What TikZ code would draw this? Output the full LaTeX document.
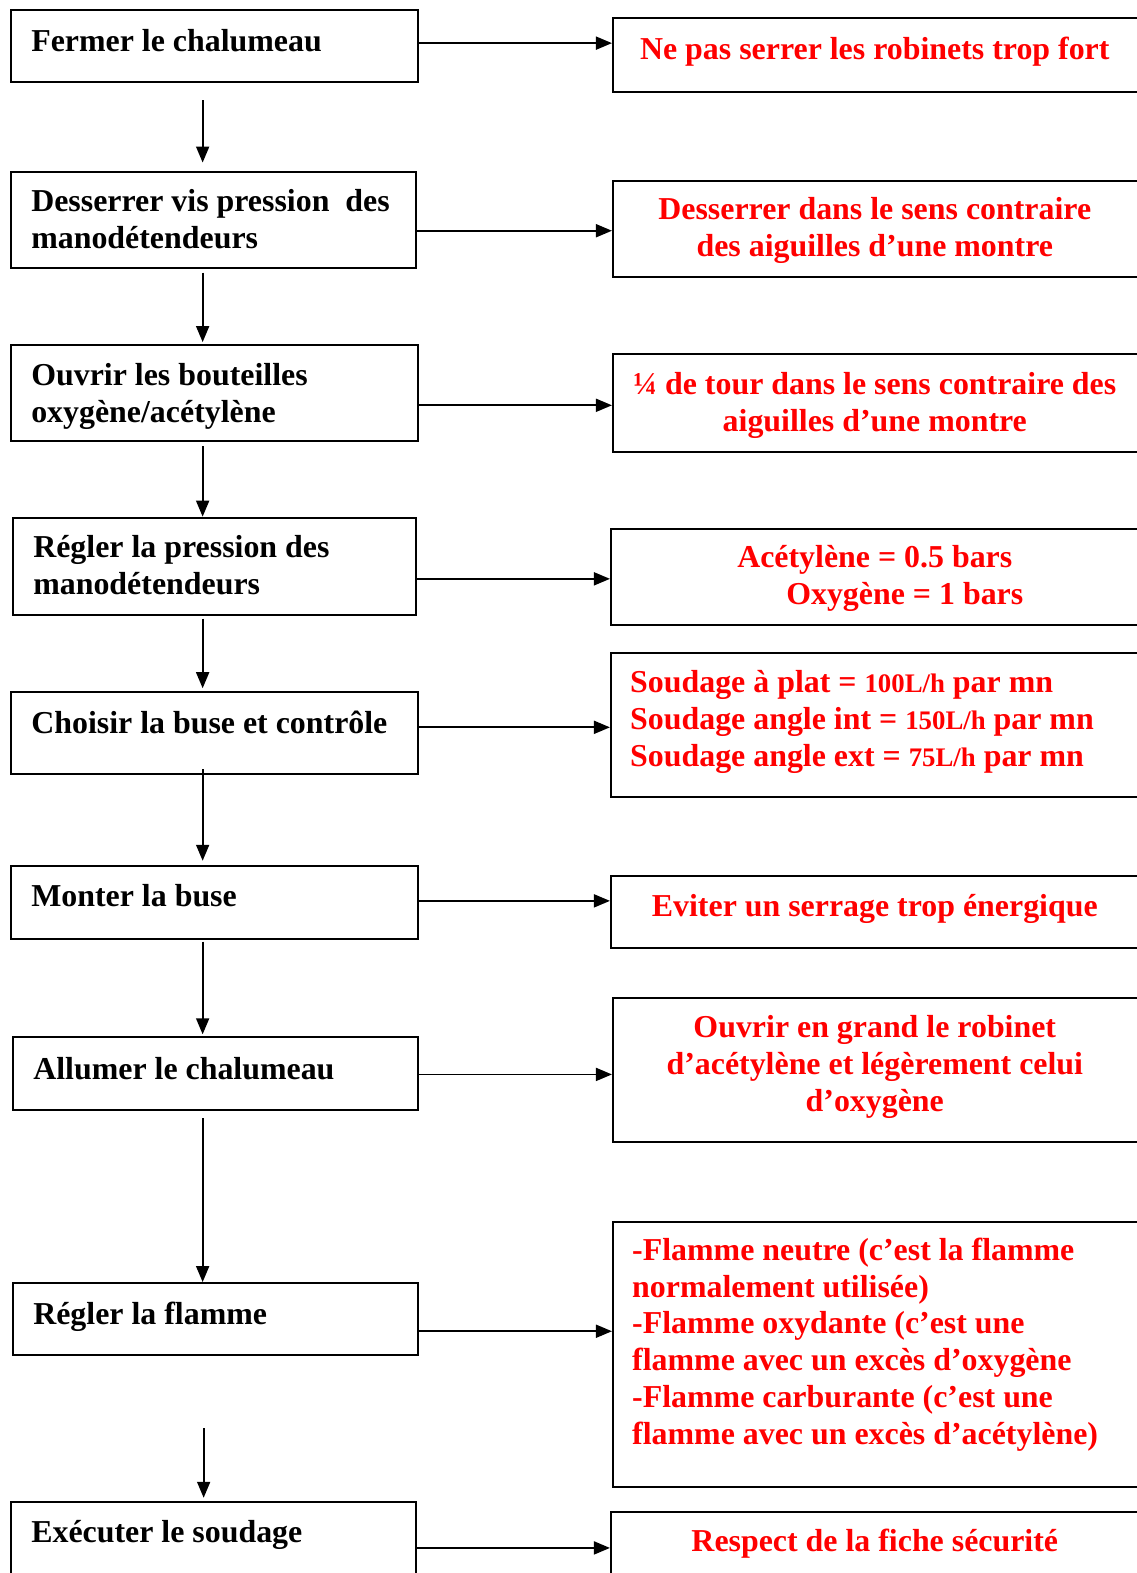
\documentclass[tikz,border=0pt]{standalone}
\usepackage{fontspec}
\setmainfont{Liberation Serif}
\usetikzlibrary{arrows.meta}
\newcommand{\bigfont}{\bfseries\fontsize{31.9}{37}\selectfont}
\newcommand{\smallnum}[1]{{\fontsize{26.8}{37}\selectfont #1}}
\tikzset{
  lbox/.style={draw, line width=2pt, inner sep=0pt, anchor=north west},
  rbox/.style={draw, line width=2pt, inner sep=0pt, anchor=north west, minimum width=530pt},
  ltext/.style={font=\bigfont, anchor=base west, inner sep=0pt, text width=400pt, align=flush left},
  rtext/.style={font=\bigfont, text=red, anchor=base, inner sep=0pt, text width=520pt, align=flush center},
  rltext/.style={font=\bigfont, text=red, anchor=base west, inner sep=0pt, text width=500pt, align=flush left},
  arr/.style={line width=1.8pt, -{Triangle[length=16pt,width=13pt]}},
}
\begin{document}
\begin{tikzpicture}[x=1.0035pt, y=-1.0035pt]
\useasboundingbox[fill=white] (0,0) rectangle (1133,1568);
% left boxes
\node[lbox, minimum width=407pt, minimum height=72pt] (L1) at (10,9) {};
\node[lbox, minimum width=405pt, minimum height=96pt] (L2) at (10,170) {};
\node[lbox, minimum width=407pt, minimum height=96pt] (L3) at (10,343) {};
\node[lbox, minimum width=403pt, minimum height=97pt] (L4) at (12,515) {};
\node[lbox, minimum width=407pt, minimum height=82pt] (L5) at (10,689) {};
\node[lbox, minimum width=407pt, minimum height=73pt] (L6) at (10,862) {};
\node[lbox, minimum width=405pt, minimum height=73pt] (L7) at (12,1033) {};
\node[lbox, minimum width=405pt, minimum height=72pt] (L8) at (12,1278) {};
\node[lbox, minimum width=405pt, minimum height=80pt] (L9) at (10,1496) {};
% left texts
\node[ltext] (t1) at (31,51) {Fermer le chalumeau};
\node[ltext] (t2) at (31,211) {Desserrer vis pression\ \ des\\manodétendeurs};
\node[ltext] (t3) at (31,384) {Ouvrir les bouteilles\\oxygène/acétylène};
\node[ltext] (t4) at (33,556) {Régler la pression des\\manodétendeurs};
\node[ltext] (t5) at (31,731) {Choisir la buse et contrôle};
\node[ltext] (t6) at (31,904) {Monter la buse};
\node[ltext] (t7) at (33,1076) {Allumer le chalumeau};
\node[ltext] (t8) at (33,1320) {Régler la flamme};
\node[ltext] (t9) at (31,1538) {Exécuter le soudage};
% right boxes
\node[rbox, minimum height=74pt] (R1) at (610,17) {};
\node[rbox, minimum height=96pt] (R2) at (610,179) {};
\node[rbox, minimum height=98pt] (R3) at (610,352) {};
\node[rbox, minimum height=96pt] (R4) at (608,526) {};
\node[rbox, minimum height=144pt] (R5) at (608,650) {};
\node[rbox, minimum height=72pt] (R6) at (608,872) {};
\node[rbox, minimum height=144pt] (R7) at (610,994) {};
\node[rbox, minimum height=265pt] (R8) at (610,1217) {};
\node[rbox, minimum height=80pt] (R9) at (608,1506) {};
% right texts
\node[rtext] (s1) at (872,59) {Ne pas serrer les robinets trop fort};
\node[rtext] (s2) at (872,219) {Desserrer dans le sens contraire\\des aiguilles d’une montre};
\node[rtext] (s3) at (872,393) {¼ de tour dans le sens contraire des\\aiguilles d’une montre};
\node[rtext] (s4) at (872,566) {Acétylène = 0.5 bars\\\hspace*{60pt}Oxygène = 1 bars};
\node[rltext] (s5) at (628,690) {Soudage à plat = \smallnum{100L/h} par mn\\Soudage angle int = \smallnum{150L/h} par mn\\Soudage angle ext = \smallnum{75L/h} par mn};
\node[rtext] (s6) at (872,914) {Eviter un serrage trop énergique};
\node[rtext] (s7) at (872,1034) {Ouvrir en grand le robinet\\d’acétylène et légèrement celui\\d’oxygène};
\node[rltext] (s8) at (630,1256) {-Flamme neutre (c’est la flamme\\normalement utilisée)\\-Flamme oxydante (c’est une\\flamme avec un excès d’oxygène\\-Flamme carburante (c’est une\\flamme avec un excès d’acétylène)};
\node[rtext] (s9) at (872,1547) {Respect de la fiche sécurité};
% horizontal arrows
\draw[arr] (L1.east |- 0,43) -- (R1.west |- 0,43);
\draw[arr] (L2.east |- 0,230) -- (R2.west |- 0,230);
\draw[arr] (L3.east |- 0,404) -- (R3.west |- 0,404);
\draw[arr] (L4.east |- 0,577) -- (R4.west |- 0,577);
\draw[arr] (L5.east |- 0,725) -- (R5.west |- 0,725);
\draw[arr] (L6.east |- 0,898) -- (R6.west |- 0,898);
\draw[arr] (L7.east |- 0,1071) -- (R7.west |- 0,1071);
\draw[arr] (L8.east |- 0,1327) -- (R8.west |- 0,1327);
\draw[arr] (L9.east |- 0,1543) -- (R9.west |- 0,1543);
% vertical arrows
\coordinate (ax) at (202,0);
\coordinate (bx) at (203,0);
\draw[arr, shorten <=17pt, shorten >=8pt] (L1.south -| ax) -- (L2.north -| ax);
\draw[arr, shorten <=4pt, shorten >=2pt] (L2.south -| ax) -- (L3.north -| ax);
\draw[arr, shorten <=4pt] (L3.south -| ax) -- (L4.north -| ax);
\draw[arr, shorten <=3pt, shorten >=3pt] (L4.south -| ax) -- (L5.north -| ax);
\draw[arr, shorten <=-6pt, shorten >=4pt] (L5.south -| ax) -- (L6.north -| ax);
\draw[arr, shorten <=2pt, shorten >=2pt] (L6.south -| ax) -- (L7.north -| ax);
\draw[arr, shorten <=7pt] (L7.south -| ax) -- (L8.north -| ax);
\draw[arr, shorten <=72pt, shorten >=3pt] (L8.south -| bx) -- (L9.north -| bx);
\end{tikzpicture}
\end{document}
